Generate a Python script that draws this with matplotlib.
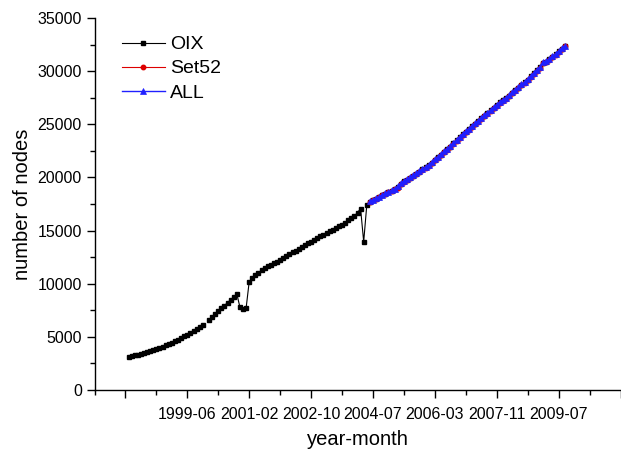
#!/usr/bin/env python3
"""Growth of the number of nodes per month for the OIX, Set52 and ALL datasets."""

import numpy as np
import matplotlib
matplotlib.use('Agg')
import matplotlib.pyplot as plt
from matplotlib.ticker import MultipleLocator, FixedLocator, FixedFormatter

# month index (row number) tick labels, one every 20 rows
tick_rows = [0, 20, 40, 60, 80, 100, 120, 140, 160]
tick_labels = ['', '1999-06', '2001-02', '2002-10', '2004-07', '2006-03',
               '2007-11', '2009-07', '']

# OIX: rows 1..142 (row 26 missing)
oix_early = [3100, 3180, 3260, 3340, 3410, 3490, 3570, 3660, 3760, 3860,
             3970, 4080, 4200, 4330, 4460, 4600, 4750, 4900, 5060, 5220,
             5390, 5560, 5740, 5930, 6130, np.nan,
             6590, 6860, 7130, 7400, 7670, 7940, 8210, 8480, 8750, 9030,
             7800, 7650, 7700]
oix_mid = [10200, 10500, 10800, 11050, 11250, 11450, 11620, 11780, 11930, 12080,
           12250, 12420, 12600, 12770, 12940, 13110, 13290, 13460, 13630, 13800,
           13970, 14130, 14290, 14450, 14610, 14770, 14920, 15080, 15240, 15400,
           15560, 15750, 15950, 16150, 16350, 16700, 17050, 13950, 17400]
oix_late = [17700, 17850, 18000, 18150, 18300, 18450, 18600, 18750, 18900, 19100,
            19400, 19650, 19800, 19950, 20150, 20350, 20550, 20750, 20950, 21150,
            21400, 21650, 21900, 22150, 22400, 22650, 22900, 23200, 23500, 23800,
            24050, 24300, 24550, 24800, 25050, 25300, 25550, 25800, 26050, 26300,
            26550, 26800, 27050, 27250, 27450, 27700, 27950, 28200, 28450, 28700,
            28950, 29200, 29500, 29800, 30100, 30350, 30800, 30900, 31100, 31350,
            31600, 31850, 32100, 32350]
oix = oix_early + oix_mid + oix_late

# Set52 and ALL start at row 79
set52 = [17700, 17850, 18000, 18150, 18300, 18450, 18600, 18750, 18900, 19050,
         19350, 19600, 19750, 19900, 20100, 20300, 20500, 20700, 20900, 21100,
         21350, 21600, 21850, 22100, 22350, 22600, 22850, 23150, 23450, 23750,
         24000, 24250, 24500, 24750, 25000, 25250, 25500, 25750, 26000, 26250,
         26500, 26750, 27000, 27200, 27400, 27650, 27900, 28150, 28400, 28650,
         28900, 29150, 29450, 29750, 30050, 30300, 30750, 30850, 31050, 31300,
         31550, 31800, 32050, 32350]
all_nodes = [17750, 17900, 18050, 18200, 18350, 18500, 18650, 18800, 18950, 19150,
             19450, 19700, 19850, 20000, 20200, 20400, 20600, 20800, 21000, 21200,
             21450, 21700, 21950, 22200, 22450, 22700, 22950, 23250, 23550, 23850,
             24100, 24350, 24600, 24850, 25100, 25350, 25600, 25850, 26100, 26350,
             26600, 26850, 27100, 27300, 27500, 27750, 28000, 28250, 28500, 28750,
             29000, 29250, 29550, 29850, 30150, 30400, 30850, 30950, 31150, 31400,
             31650, 31900, 32150, 32400]

plt.rcParams['font.family'] = ['Liberation Sans', 'DejaVu Sans']

x_oix = np.arange(1, len(oix) + 1)
start = 79
x_new = np.arange(start, start + len(all_nodes))

fig = plt.figure(figsize=(6.21, 4.5), dpi=100)
ax = fig.add_axes([94.5 / 621, 60 / 450, (620.5 - 94.5) / 621, 372 / 450])

ax.plot(x_oix, oix, color='black', linewidth=0.8, marker='s', markersize=3.2,
        label='OIX')
ax.plot(x_new, set52, color='#dd0000', linewidth=0.8, marker='o', markersize=3.2,
        label='Set52')
ax.plot(x_new, all_nodes, color='#2020ff', linewidth=1.0, marker='^', markersize=4.0,
        markeredgewidth=0.5, label='ALL')

ax.set_xlim(-10, 160)
ax.set_ylim(0, 35000)

ax.xaxis.set_major_locator(FixedLocator(tick_rows))
ax.xaxis.set_major_formatter(FixedFormatter(tick_labels))
ax.xaxis.set_minor_locator(MultipleLocator(10))
ax.yaxis.set_major_locator(MultipleLocator(5000))
ax.yaxis.set_minor_locator(MultipleLocator(2500))

for side in ['top', 'right']:
    ax.spines[side].set_visible(False)
for side in ['left', 'bottom']:
    ax.spines[side].set_linewidth(1.0)
ax.spines['bottom'].set_clip_on(False)

ax.tick_params(which='major', direction='out', length=6, width=1.0, labelsize=11.5,
               pad=3)
ax.tick_params(which='minor', direction='out', length=3.5, width=1.0)
ax.tick_params(axis='x', which='major', pad=6)

ax.set_xlabel('year-month', fontsize=14.5, labelpad=6)
ax.set_ylabel('number of nodes', fontsize=14.5, labelpad=4)

ax.legend(loc='upper left', bbox_to_anchor=(0.052, 0.952), frameon=False,
          fontsize=14, handlelength=2.2, handletextpad=0.26, labelspacing=0.33,
          borderpad=0, borderaxespad=0)

fig.savefig('out.png', dpi=100)
